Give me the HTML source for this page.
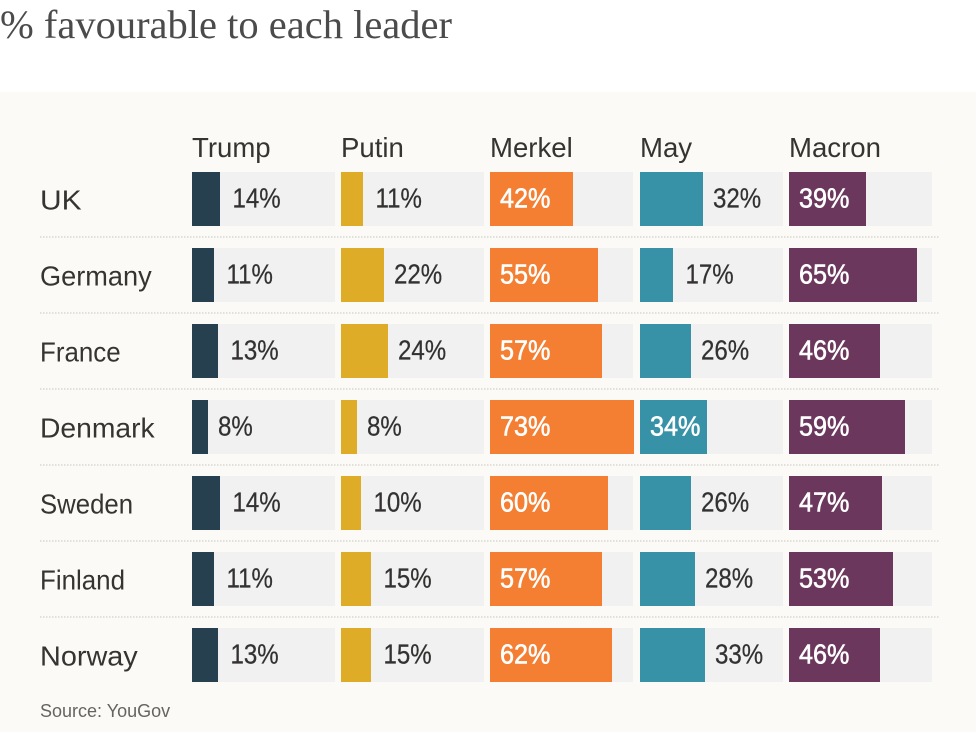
<!DOCTYPE html>
<html lang="en">
<head>
<meta charset="utf-8">
<title>% favourable to each leader</title>
<style>
html,body{margin:0;padding:0;background:#fff;}
svg{display:block;}
text{font-family:"Liberation Sans",sans-serif;}
</style>
</head>
<body>
<svg id="chart" width="976" height="732" viewBox="0 0 976 732" xmlns="http://www.w3.org/2000/svg">
  <rect x="0" y="92" width="976" height="640" fill="#fbfaf6"/>
  <text x="0" y="38" font-size="40.5" fill="#4b4b4b" style="font-family:'Liberation Serif',serif">% favourable to each leader</text>
  <text x="40" y="717" font-size="18" fill="#666460">Source: YouGov</text>
</svg>
<script>
const countries = ["UK", "Germany", "France", "Denmark", "Sweden", "Finland", "Norway"];
const leaders = ["Trump", "Putin", "Merkel", "May", "Macron"];
const trump = [14, 11, 13, 8, 14, 11, 13];
const putin = [11, 22, 24, 8, 10, 15, 15];
const merkel = [42, 55, 57, 73, 60, 57, 62];
const may = [32, 17, 26, 34, 26, 28, 33];
const macron = [39, 65, 46, 59, 47, 53, 46];
const series = [trump, putin, merkel, may, macron];

const barColors = ["#27404f", "#dfac28", "#f47e31", "#3792a8", "#6b375c"];
const rowLabelStretch = [1.07, 0.97, 0.925, 1.01, 0.92, 0.926, 1.03];
const svg = document.getElementById("chart");
const NS = "http://www.w3.org/2000/svg";
const columnX = i => Math.round(192 + i * 149.2);
const rowY = j => 172 + j * 76;
const barWidth = v => Math.round(v * 1.97);

function addRect(x, y, w, h, fill) {
  const r = document.createElementNS(NS, "rect");
  r.setAttribute("x", x);
  r.setAttribute("y", y);
  r.setAttribute("width", w);
  r.setAttribute("height", h);
  r.setAttribute("fill", fill);
  svg.appendChild(r);
  return r;
}
function addText(str, x, y, size, fill, sx) {
  const t = document.createElementNS(NS, "text");
  t.textContent = str;
  t.setAttribute("transform", "translate(" + x + " " + y + ") scale(" + sx + " 1)");
  t.setAttribute("font-size", size);
  t.setAttribute("fill", fill);
  svg.appendChild(t);
  return t;
}

leaders.forEach((name, i) => {
  const h = addText(name, columnX(i), 157, 28, "#363432", 0.985);
  
  
});

countries.forEach((country, j) => {
  const c = addText(country, 40, rowY(j) + 37.5, 28, "#363432", rowLabelStretch[j]);
  
  

  if (j < countries.length - 1) {
    const line = document.createElementNS(NS, "line");
    line.setAttribute("x1", 40);
    line.setAttribute("x2", 940);
    line.setAttribute("y1", rowY(j) + 65);
    line.setAttribute("y2", rowY(j) + 65);
    line.setAttribute("stroke", "#d9d7d1");
    line.setAttribute("stroke-width", 1.5);
    line.setAttribute("stroke-dasharray", "1.5 1.5");
    
    
    svg.appendChild(line);
  }

  series.forEach((values, i) => {
    const v = values[j];
    const x = columnX(i);
    const y = rowY(j);
    const track = addRect(x, y, 143, 54, "#f1f1f2");
    
    

    const w = barWidth(v);
    const bar = addRect(x, y, w, 54, barColors[i]);
    
    

    const inside = v >= 34;
    const nudge = String(v)[0] === "1" ? 2.5 : 0;
    const label = addText(v + "%", inside ? x + 10 : x + w + 10 + nudge, y + 35.5, 28, inside ? "#ffffff" : "#333231", inside ? 0.9 : 0.86);
    label.setAttribute("stroke", inside ? "#ffffff" : "#333231");
    label.setAttribute("stroke-width", inside ? 0.6 : 0.25);
    
    
  });
});
</script>
</body>
</html>
